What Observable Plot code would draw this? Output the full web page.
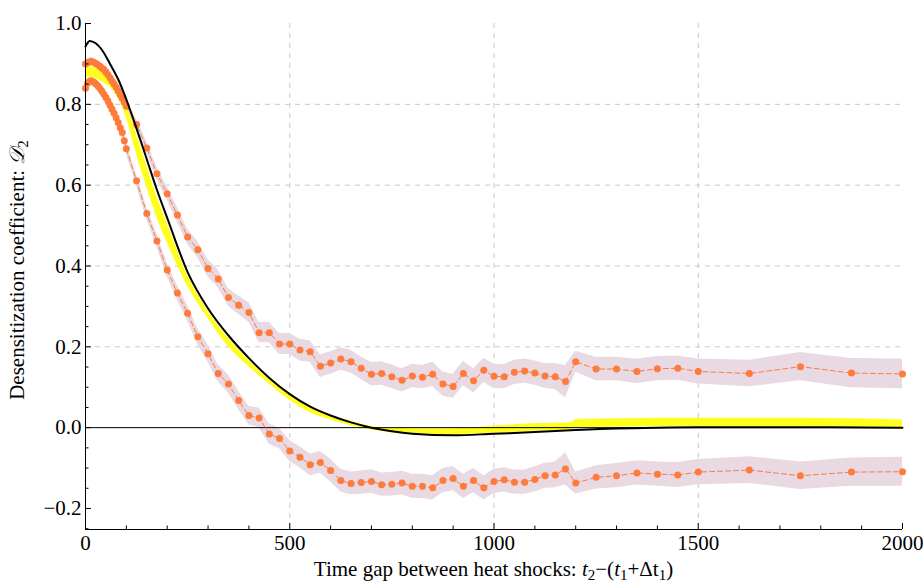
<!DOCTYPE html>
<html><head><meta charset="utf-8">
<script src="https://cdn.jsdelivr.net/npm/d3@7"></script>
<script src="https://cdn.jsdelivr.net/npm/@observablehq/plot@0.6"></script>
<style>body{margin:0;background:#fff} #chart svg{display:block} #chart svg text{font-family:"Liberation Serif","Times New Roman",Times,serif}</style>
</head><body><div id="chart"></div>
<script>
// ---- data ----
const seriesX = [0,5,10,15,20,25,30,35,40,45,50,55,60,65,70,75,80,85,90,95,100,
  125,150,175,200,225,250,275,300,325,350,375,400,425,450,475,500,525,550,575,600,
  625,650,675,700,725,750,775,800,825,850,875,900,925,950,975,1000,1025,1050,1075,1100,
  1125,1150,1175,1200,1250,1300,1350,1400,1450,1500,1625,1750,1875,2000];
const upperY = [0.900,0.903,0.905,0.906,0.904,0.901,0.898,0.894,0.890,0.886,0.880,0.873,0.866,0.858,0.850,0.842,0.833,0.824,0.815,0.805,0.795,
  0.750,0.692,0.628,0.579,0.526,0.472,0.440,0.394,0.368,0.322,
  0.303,0.285,0.235,0.235,0.207,0.207,0.192,0.188,0.152,0.160,
  0.170,0.163,0.147,0.132,0.134,0.126,0.117,0.128,0.125,0.132,
  0.108,0.102,0.134,0.116,0.142,0.127,0.126,0.137,0.140,0.135,
  0.128,0.126,0.114,0.163,
  0.145,0.145,0.139,0.146,0.147,0.139,
  0.134,0.151,0.135,0.133];
const upperErr = [0.010,0.010,0.010,0.010,0.010,0.010,0.010,0.010,0.011,0.011,0.011,0.011,0.011,0.012,0.012,0.012,0.012,0.012,0.012,0.013,0.013,
  0.014,0.015,0.016,0.017,0.018,0.019,0.020,0.021,0.022,0.022,
  0.023,0.024,0.025,0.025,0.026,0.026,0.027,0.027,0.028,0.028,
  0.028,0.028,0.028,0.029,0.029,0.029,0.029,0.029,0.029,0.030,
  0.030,0.030,0.030,0.030,0.030,0.030,0.030,0.030,0.030,0.030,
  0.031,0.032,0.040,0.026,
  0.029,0.029,0.030,0.030,0.030,0.031,
  0.033,0.035,0.036,0.037];
const lowerY = [0.840,0.852,0.857,0.858,0.855,0.851,0.846,0.840,0.833,0.825,0.817,0.808,0.798,0.788,0.778,0.767,0.755,0.742,0.730,0.710,0.690,
  0.611,0.530,0.462,0.390,0.333,0.283,0.225,0.183,0.134,0.108,
  0.067,0.030,0.024,-0.016,-0.027,-0.058,-0.073,-0.092,-0.086,-0.106,
  -0.131,-0.138,-0.136,-0.133,-0.141,-0.140,-0.137,-0.145,-0.145,-0.149,
  -0.131,-0.126,-0.145,-0.131,-0.149,-0.133,-0.129,-0.135,-0.135,-0.128,
  -0.119,-0.117,-0.102,-0.137,
  -0.123,-0.119,-0.112,-0.115,-0.117,-0.110,
  -0.105,-0.119,-0.110,-0.109];
const lowerErr = [0.010,0.010,0.010,0.010,0.010,0.010,0.011,0.011,0.011,0.011,0.011,0.012,0.012,0.012,0.012,0.012,0.012,0.013,0.013,0.013,0.013,
  0.014,0.015,0.016,0.017,0.018,0.019,0.020,0.021,0.021,0.022,
  0.023,0.023,0.024,0.025,0.025,0.026,0.026,0.027,0.027,0.028,
  0.028,0.028,0.029,0.029,0.029,0.029,0.029,0.030,0.030,0.030,
  0.030,0.030,0.030,0.030,0.030,0.030,0.030,0.030,0.030,0.031,
  0.031,0.032,0.040,0.027,
  0.029,0.030,0.030,0.030,0.031,0.031,
  0.033,0.034,0.035,0.036];
const modelX = [0,10,25,40,60,80,100,125,150,175,200,250,300,350,400,450,500,550,600,650,700,750,800,900,1000,1100,1200,1300,1400,1500,1750,2000];
const modelY = [0.943,0.957,0.951,0.935,0.900,0.862,0.812,0.740,0.664,0.588,0.519,0.385,0.295,0.228,0.172,0.123,0.083,0.052,0.030,0.013,0.000,-0.009,-0.015,-0.019,-0.015,-0.011,-0.006,-0.002,0.000,0.001,0.001,0.000];
const bandX = [0,10,25,40,60,80,100,125,150,175,200,250,300,350,400,450,500,550,600,650,700,750,800,900,1000,1100,1190,1200,1300,1500,1750,2000];
const bandHi = [0.889,0.893,0.890,0.880,0.858,0.830,0.797,0.726,0.648,0.572,0.505,0.377,0.288,0.222,0.166,0.119,0.080,0.050,0.030,0.015,0.003,-0.001,-0.003,-0.003,0.004,0.010,0.013,0.020,0.022,0.023,0.023,0.019];
const bandLo = [0.864,0.867,0.864,0.856,0.842,0.815,0.766,0.676,0.595,0.520,0.458,0.350,0.270,0.200,0.150,0.108,0.068,0.037,0.019,0.005,-0.006,-0.013,-0.016,-0.018,-0.014,-0.009,-0.005,0.000,0.001,0.002,0.002,0.001];
const xTicks = [0,500,1000,1500,2000];
const xMinor = [100,200,300,400,600,700,800,900,1100,1200,1300,1400,1600,1700,1800,1900];
const yTicks = [-0.2,0,0.2,0.4,0.6,0.8,1.0];
const yMinor = [-0.25,-0.15,-0.1,-0.05,0.05,0.1,0.15,0.25,0.3,0.35,0.45,0.5,0.55,0.65,0.7,0.75,0.85,0.9,0.95];
const xGrid = [500,1000,1500];
const yGrid = [0.2,0.4,0.6,0.8];
const xLabel = [["Time gap between heat shocks: "],["t","i"],["2","s"],["\u2212("],["t","i"],["1","s"],["+\u0394t"],["1","s"],[")"]];
const yLabel = [["Desensitization coefficient: "],["\uD835\uDC9F","i"],["2","s"]];

// ---- layout ----
const W = 923, H = 583, mL = 85, mR = 21, mT = 23, mB = 54;
const innerW = W - mL - mR, innerH = H - mT - mB;
const yMin = -0.252;
const FONT = '"Liberation Serif","Times New Roman",Times,serif';
const orange = "#fe7b3c", bandColor = "#e8d9e3", yellow = "#ffff1e", gridColor = "#c8c8c8";

const upper = seriesX.map((x, i) => ({x, y: upperY[i], e: upperErr[i]}));
const lower = seriesX.map((x, i) => ({x, y: lowerY[i], e: lowerErr[i]}));
const model = modelX.map((x, i) => ({x, y: modelY[i]}));
const band = bandX.map((x, i) => ({x, lo: bandLo[i], hi: bandHi[i]}));

const plot = Plot.plot({
  width: W, height: H,
  marginLeft: mL, marginRight: mR, marginTop: mT, marginBottom: mB,
  style: {fontFamily: FONT, fontSize: "21px", background: "#fff", color: "#000"},
  x: {domain: [0, 2000]},
  y: {domain: [yMin, 1.0]},
  marks: [
    Plot.ruleX(xGrid, {stroke: gridColor, strokeDasharray: "5,5", strokeWidth: 1}),
    Plot.ruleY(yGrid, {stroke: gridColor, strokeDasharray: "5,5", strokeWidth: 1}),
    Plot.areaY(upper, {x: "x", y1: d => d.y - d.e, y2: d => d.y + d.e, fill: bandColor}),
    Plot.areaY(lower, {x: "x", y1: d => d.y - d.e, y2: d => d.y + d.e, fill: bandColor}),
    Plot.areaY(band, {x: "x", y1: "lo", y2: "hi", fill: yellow, curve: "monotone-x"}),
    Plot.ruleY([0], {stroke: "#000", strokeWidth: 1}),
    Plot.line(upper, {x: "x", y: "y", stroke: orange, strokeWidth: 1, strokeDasharray: "5,3"}),
    Plot.line(lower, {x: "x", y: "y", stroke: orange, strokeWidth: 1, strokeDasharray: "5,3"}),
    Plot.dot(upper, {x: "x", y: "y", r: 3.5, fill: orange}),
    Plot.dot(lower, {x: "x", y: "y", r: 3.5, fill: orange}),
    Plot.line(model, {x: "x", y: "y", stroke: "#000", strokeWidth: 2, curve: "monotone-x"}),
    Plot.ruleX([0], {stroke: "#000", strokeWidth: 1}),
    Plot.ruleY([yMin], {stroke: "#000", strokeWidth: 1}),
    Plot.tickX(xMinor, {x: d => d, insetTop: innerH - 3.5, stroke: "#000"}),
    Plot.tickX(xTicks, {x: d => d, insetTop: innerH - 6, stroke: "#000"}),
    Plot.tickY(yMinor, {y: d => d, insetRight: innerW - 3.5, stroke: "#000"}),
    Plot.tickY(yTicks, {y: d => d, insetRight: innerW - 6, stroke: "#000"}),
    Plot.axisX(xTicks, {tickSize: 0, tickPadding: 6, tickFormat: d => String(d), label: null, fontSize: 21}),
    Plot.axisY(yTicks, {tickSize: 0, tickPadding: 4, tickFormat: d3.format(".1f"), label: null, fontSize: 21})
  ]
});
document.getElementById("chart").appendChild(plot);

function richText(parent, parts) {
  const t = parent.append("text").style("font-family", FONT).attr("font-size", 21).attr("fill", "#000").attr("text-anchor", "middle");
  let shift = 0;
  for (const [s, f] of parts) {
    const sp = t.append("tspan").text(s);
    if (f === "i") sp.attr("font-style", "italic");
    const target = f === "s" ? 3.5 : 0;
    if (target !== shift) { sp.attr("dy", target - shift); shift = target; }
    if (f === "s") sp.attr("font-size", 15);
  }
  return t;
}
const svg = d3.select(plot);
richText(svg, xLabel).attr("x", mL + innerW / 2).attr("y", 576);
richText(svg, yLabel).attr("transform", "translate(24,270) rotate(-90)");
</script></body></html>
